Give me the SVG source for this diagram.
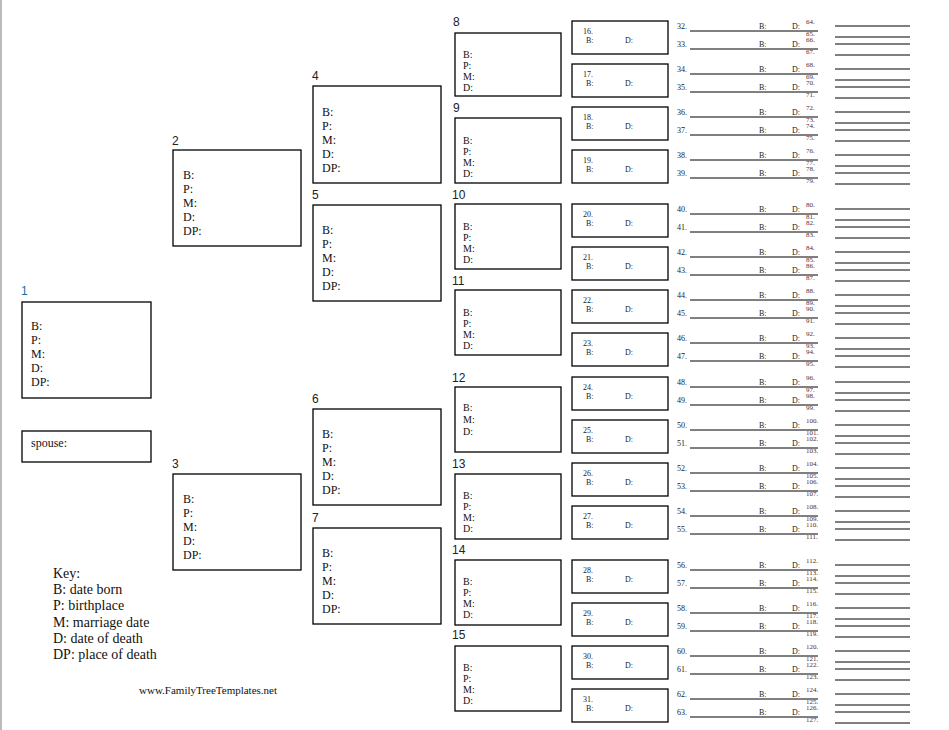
<svg xmlns="http://www.w3.org/2000/svg" width="949" height="730" viewBox="0 0 949 730">
<style>
.b{fill:#fff;stroke:#000;stroke-width:1.3}
.n{font-family:"Liberation Sans",Arial,sans-serif;font-size:12px;fill:#222}
.t,.s,.x,.r,.k{font-family:"Times New Roman","Liberation Serif","DejaVu Serif",serif}
.t{font-size:12px;fill:#111}
.s{font-size:10px;fill:#111}
.x{font-size:8px;fill:#222}
.r{font-size:7px;fill:#5a2a2a}
.k{font-size:14px;fill:#111}
.l{stroke:#000;stroke-width:1}
</style>
<rect width="949" height="730" fill="#fff"/>
<line x1="1" y1="0" x2="1" y2="730" stroke="#bbb" stroke-width="2"/>
<g id="p1"><text class="n" x="21" y="295" style="fill:#1a6fa0">1</text><rect class="b" x="22" y="302" width="129" height="96"/>
<text class="t" x="31" y="330">B:</text><text class="t" x="31" y="344">P:</text><text class="t" x="31" y="358">M:</text><text class="t" x="31" y="372">D:</text><text class="t" x="31" y="386">DP:</text></g>
<g id="spouse"><rect class="b" x="22" y="431" width="129" height="31"/><text class="t" x="31" y="447">spouse:</text></g>
<g id="p2"><text class="n" x="172" y="145">2</text><rect class="b" x="173" y="150" width="128" height="96"/>
<text class="t" x="183" y="179">B:</text><text class="t" x="183" y="193">P:</text><text class="t" x="183" y="207">M:</text><text class="t" x="183" y="221">D:</text><text class="t" x="183" y="235">DP:</text></g>
<g id="p3"><text class="n" x="172" y="468">3</text><rect class="b" x="173" y="474" width="128" height="96"/>
<text class="t" x="183" y="503">B:</text><text class="t" x="183" y="517">P:</text><text class="t" x="183" y="531">M:</text><text class="t" x="183" y="545">D:</text><text class="t" x="183" y="559">DP:</text></g>
<g id="p4"><text class="n" x="312" y="80">4</text><rect class="b" x="313" y="86" width="128" height="97"/>
<text class="t" x="322" y="116">B:</text><text class="t" x="322" y="130">P:</text><text class="t" x="322" y="144">M:</text><text class="t" x="322" y="158">D:</text><text class="t" x="322" y="172">DP:</text></g>
<g id="p5"><text class="n" x="312" y="199">5</text><rect class="b" x="313" y="205" width="128" height="96"/>
<text class="t" x="322" y="234">B:</text><text class="t" x="322" y="248">P:</text><text class="t" x="322" y="262">M:</text><text class="t" x="322" y="276">D:</text><text class="t" x="322" y="290">DP:</text></g>
<g id="p6"><text class="n" x="312" y="403">6</text><rect class="b" x="313" y="409" width="128" height="96"/>
<text class="t" x="322" y="438">B:</text><text class="t" x="322" y="452">P:</text><text class="t" x="322" y="466">M:</text><text class="t" x="322" y="480">D:</text><text class="t" x="322" y="494">DP:</text></g>
<g id="p7"><text class="n" x="312" y="522">7</text><rect class="b" x="313" y="528" width="128" height="96"/>
<text class="t" x="322" y="557">B:</text><text class="t" x="322" y="571">P:</text><text class="t" x="322" y="585">M:</text><text class="t" x="322" y="599">D:</text><text class="t" x="322" y="613">DP:</text></g>
<g id="p8"><text class="n" x="453" y="26">8</text><rect class="b" x="455" y="33" width="106" height="63"/>
<text class="s" x="463" y="58">B:</text><text class="s" x="463" y="69">P:</text><text class="s" x="463" y="80">M:</text><text class="s" x="463" y="91">D:</text></g>
<g id="p9"><text class="n" x="453" y="112">9</text><rect class="b" x="455" y="118" width="106" height="65"/>
<text class="s" x="463" y="144">B:</text><text class="s" x="463" y="155">P:</text><text class="s" x="463" y="166">M:</text><text class="s" x="463" y="177">D:</text></g>
<g id="p10"><text class="n" x="452" y="199">10</text><rect class="b" x="455" y="204" width="106" height="65"/>
<text class="s" x="463" y="230">B:</text><text class="s" x="463" y="241">P:</text><text class="s" x="463" y="252">M:</text><text class="s" x="463" y="263">D:</text></g>
<g id="p11"><text class="n" x="452" y="285">11</text><rect class="b" x="455" y="290" width="106" height="65"/>
<text class="s" x="463" y="316">B:</text><text class="s" x="463" y="327">P:</text><text class="s" x="463" y="338">M:</text><text class="s" x="463" y="349">D:</text></g>
<g id="p12"><text class="n" x="452" y="382">12</text><rect class="b" x="455" y="387" width="106" height="65"/>
<text class="s" x="463" y="411">B:</text><text class="s" x="463" y="423">M:</text><text class="s" x="463" y="435">D:</text></g>
<g id="p13"><text class="n" x="452" y="468">13</text><rect class="b" x="455" y="474" width="106" height="65"/>
<text class="s" x="463" y="499">B:</text><text class="s" x="463" y="510">P:</text><text class="s" x="463" y="521">M:</text><text class="s" x="463" y="532">D:</text></g>
<g id="p14"><text class="n" x="452" y="554">14</text><rect class="b" x="455" y="560" width="106" height="65"/>
<text class="s" x="463" y="585">B:</text><text class="s" x="463" y="596">P:</text><text class="s" x="463" y="607">M:</text><text class="s" x="463" y="618">D:</text></g>
<g id="p15"><text class="n" x="452" y="639">15</text><rect class="b" x="455" y="646" width="106" height="65"/>
<text class="s" x="463" y="671">B:</text><text class="s" x="463" y="682">P:</text><text class="s" x="463" y="693">M:</text><text class="s" x="463" y="704">D:</text></g>
<g id="col5">
<g id="p16"><rect class="b" x="572" y="21" width="96" height="33"/><text class="x" x="583" y="34">16.</text><text class="x" x="586" y="43">B:</text><text class="x" x="625" y="43">D:</text></g>
<g id="p17"><rect class="b" x="572" y="64" width="96" height="33"/><text class="x" x="583" y="77">17.</text><text class="x" x="586" y="86">B:</text><text class="x" x="625" y="86">D:</text></g>
<g id="p18"><rect class="b" x="572" y="107" width="96" height="33"/><text class="x" x="583" y="120">18.</text><text class="x" x="586" y="129">B:</text><text class="x" x="625" y="129">D:</text></g>
<g id="p19"><rect class="b" x="572" y="150" width="96" height="33"/><text class="x" x="583" y="163">19.</text><text class="x" x="586" y="172">B:</text><text class="x" x="625" y="172">D:</text></g>
<g id="p20"><rect class="b" x="572" y="204" width="96" height="33"/><text class="x" x="583" y="217">20.</text><text class="x" x="586" y="226">B:</text><text class="x" x="625" y="226">D:</text></g>
<g id="p21"><rect class="b" x="572" y="247" width="96" height="33"/><text class="x" x="583" y="260">21.</text><text class="x" x="586" y="269">B:</text><text class="x" x="625" y="269">D:</text></g>
<g id="p22"><rect class="b" x="572" y="290" width="96" height="33"/><text class="x" x="583" y="303">22.</text><text class="x" x="586" y="312">B:</text><text class="x" x="625" y="312">D:</text></g>
<g id="p23"><rect class="b" x="572" y="333" width="96" height="33"/><text class="x" x="583" y="346">23.</text><text class="x" x="586" y="355">B:</text><text class="x" x="625" y="355">D:</text></g>
<g id="p24"><rect class="b" x="572" y="377" width="96" height="33"/><text class="x" x="583" y="390">24.</text><text class="x" x="586" y="399">B:</text><text class="x" x="625" y="399">D:</text></g>
<g id="p25"><rect class="b" x="572" y="420" width="96" height="33"/><text class="x" x="583" y="433">25.</text><text class="x" x="586" y="442">B:</text><text class="x" x="625" y="442">D:</text></g>
<g id="p26"><rect class="b" x="572" y="463" width="96" height="33"/><text class="x" x="583" y="476">26.</text><text class="x" x="586" y="485">B:</text><text class="x" x="625" y="485">D:</text></g>
<g id="p27"><rect class="b" x="572" y="506" width="96" height="33"/><text class="x" x="583" y="519">27.</text><text class="x" x="586" y="528">B:</text><text class="x" x="625" y="528">D:</text></g>
<g id="p28"><rect class="b" x="572" y="560" width="96" height="33"/><text class="x" x="583" y="573">28.</text><text class="x" x="586" y="582">B:</text><text class="x" x="625" y="582">D:</text></g>
<g id="p29"><rect class="b" x="572" y="603" width="96" height="33"/><text class="x" x="583" y="616">29.</text><text class="x" x="586" y="625">B:</text><text class="x" x="625" y="625">D:</text></g>
<g id="p30"><rect class="b" x="572" y="646" width="96" height="33"/><text class="x" x="583" y="659">30.</text><text class="x" x="586" y="668">B:</text><text class="x" x="625" y="668">D:</text></g>
<g id="p31"><rect class="b" x="572" y="689" width="96" height="33"/><text class="x" x="583" y="702">31.</text><text class="x" x="586" y="711">B:</text><text class="x" x="625" y="711">D:</text></g>
</g>
<g id="col6">
<text class="x" x="677" y="29">32.</text><text class="x" x="759" y="29">B:</text><text class="x" x="792" y="29">D:</text><line class="l" x1="690" y1="31" x2="818" y2="31"/>
<text class="x" x="677" y="47">33.</text><text class="x" x="759" y="47">B:</text><text class="x" x="792" y="47">D:</text><line class="l" x1="690" y1="49" x2="818" y2="49"/>
<text class="x" x="677" y="72">34.</text><text class="x" x="759" y="72">B:</text><text class="x" x="792" y="72">D:</text><line class="l" x1="690" y1="74" x2="818" y2="74"/>
<text class="x" x="677" y="90">35.</text><text class="x" x="759" y="90">B:</text><text class="x" x="792" y="90">D:</text><line class="l" x1="690" y1="92" x2="818" y2="92"/>
<text class="x" x="677" y="115">36.</text><text class="x" x="759" y="115">B:</text><text class="x" x="792" y="115">D:</text><line class="l" x1="690" y1="117" x2="818" y2="117"/>
<text class="x" x="677" y="133">37.</text><text class="x" x="759" y="133">B:</text><text class="x" x="792" y="133">D:</text><line class="l" x1="690" y1="135" x2="818" y2="135"/>
<text class="x" x="677" y="158">38.</text><text class="x" x="759" y="158">B:</text><text class="x" x="792" y="158">D:</text><line class="l" x1="690" y1="160" x2="818" y2="160"/>
<text class="x" x="677" y="176">39.</text><text class="x" x="759" y="176">B:</text><text class="x" x="792" y="176">D:</text><line class="l" x1="690" y1="178" x2="818" y2="178"/>
<text class="x" x="677" y="212">40.</text><text class="x" x="759" y="212">B:</text><text class="x" x="792" y="212">D:</text><line class="l" x1="690" y1="214" x2="818" y2="214"/>
<text class="x" x="677" y="230">41.</text><text class="x" x="759" y="230">B:</text><text class="x" x="792" y="230">D:</text><line class="l" x1="690" y1="232" x2="818" y2="232"/>
<text class="x" x="677" y="255">42.</text><text class="x" x="759" y="255">B:</text><text class="x" x="792" y="255">D:</text><line class="l" x1="690" y1="257" x2="818" y2="257"/>
<text class="x" x="677" y="273">43.</text><text class="x" x="759" y="273">B:</text><text class="x" x="792" y="273">D:</text><line class="l" x1="690" y1="275" x2="818" y2="275"/>
<text class="x" x="677" y="298">44.</text><text class="x" x="759" y="298">B:</text><text class="x" x="792" y="298">D:</text><line class="l" x1="690" y1="300" x2="818" y2="300"/>
<text class="x" x="677" y="316">45.</text><text class="x" x="759" y="316">B:</text><text class="x" x="792" y="316">D:</text><line class="l" x1="690" y1="318" x2="818" y2="318"/>
<text class="x" x="677" y="341">46.</text><text class="x" x="759" y="341">B:</text><text class="x" x="792" y="341">D:</text><line class="l" x1="690" y1="343" x2="818" y2="343"/>
<text class="x" x="677" y="359">47.</text><text class="x" x="759" y="359">B:</text><text class="x" x="792" y="359">D:</text><line class="l" x1="690" y1="361" x2="818" y2="361"/>
<text class="x" x="677" y="385">48.</text><text class="x" x="759" y="385">B:</text><text class="x" x="792" y="385">D:</text><line class="l" x1="690" y1="387" x2="818" y2="387"/>
<text class="x" x="677" y="403">49.</text><text class="x" x="759" y="403">B:</text><text class="x" x="792" y="403">D:</text><line class="l" x1="690" y1="405" x2="818" y2="405"/>
<text class="x" x="677" y="428">50.</text><text class="x" x="759" y="428">B:</text><text class="x" x="792" y="428">D:</text><line class="l" x1="690" y1="430" x2="818" y2="430"/>
<text class="x" x="677" y="446">51.</text><text class="x" x="759" y="446">B:</text><text class="x" x="792" y="446">D:</text><line class="l" x1="690" y1="448" x2="818" y2="448"/>
<text class="x" x="677" y="471">52.</text><text class="x" x="759" y="471">B:</text><text class="x" x="792" y="471">D:</text><line class="l" x1="690" y1="473" x2="818" y2="473"/>
<text class="x" x="677" y="489">53.</text><text class="x" x="759" y="489">B:</text><text class="x" x="792" y="489">D:</text><line class="l" x1="690" y1="491" x2="818" y2="491"/>
<text class="x" x="677" y="514">54.</text><text class="x" x="759" y="514">B:</text><text class="x" x="792" y="514">D:</text><line class="l" x1="690" y1="516" x2="818" y2="516"/>
<text class="x" x="677" y="532">55.</text><text class="x" x="759" y="532">B:</text><text class="x" x="792" y="532">D:</text><line class="l" x1="690" y1="534" x2="818" y2="534"/>
<text class="x" x="677" y="568">56.</text><text class="x" x="759" y="568">B:</text><text class="x" x="792" y="568">D:</text><line class="l" x1="690" y1="570" x2="818" y2="570"/>
<text class="x" x="677" y="586">57.</text><text class="x" x="759" y="586">B:</text><text class="x" x="792" y="586">D:</text><line class="l" x1="690" y1="588" x2="818" y2="588"/>
<text class="x" x="677" y="611">58.</text><text class="x" x="759" y="611">B:</text><text class="x" x="792" y="611">D:</text><line class="l" x1="690" y1="613" x2="818" y2="613"/>
<text class="x" x="677" y="629">59.</text><text class="x" x="759" y="629">B:</text><text class="x" x="792" y="629">D:</text><line class="l" x1="690" y1="631" x2="818" y2="631"/>
<text class="x" x="677" y="654">60.</text><text class="x" x="759" y="654">B:</text><text class="x" x="792" y="654">D:</text><line class="l" x1="690" y1="656" x2="818" y2="656"/>
<text class="x" x="677" y="672">61.</text><text class="x" x="759" y="672">B:</text><text class="x" x="792" y="672">D:</text><line class="l" x1="690" y1="674" x2="818" y2="674"/>
<text class="x" x="677" y="697">62.</text><text class="x" x="759" y="697">B:</text><text class="x" x="792" y="697">D:</text><line class="l" x1="690" y1="699" x2="818" y2="699"/>
<text class="x" x="677" y="715">63.</text><text class="x" x="759" y="715">B:</text><text class="x" x="792" y="715">D:</text><line class="l" x1="690" y1="717" x2="818" y2="717"/>
</g>
<g id="col7">
<text class="r" x="806" y="24">64.</text><line class="l" x1="835" y1="26" x2="910" y2="26"/><text class="r" x="806" y="36">65.</text><line class="l" x1="835" y1="37" x2="910" y2="37"/>
<text class="r" x="806" y="42">66.</text><line class="l" x1="835" y1="44" x2="910" y2="44"/><text class="r" x="806" y="54">67.</text><line class="l" x1="835" y1="55" x2="910" y2="55"/>
<text class="r" x="806" y="67">68.</text><line class="l" x1="835" y1="69" x2="910" y2="69"/><text class="r" x="806" y="79">69.</text><line class="l" x1="835" y1="80" x2="910" y2="80"/>
<text class="r" x="806" y="85">70.</text><line class="l" x1="835" y1="87" x2="910" y2="87"/><text class="r" x="806" y="97">71.</text><line class="l" x1="835" y1="98" x2="910" y2="98"/>
<text class="r" x="806" y="110">72.</text><line class="l" x1="835" y1="112" x2="910" y2="112"/><text class="r" x="806" y="122">73.</text><line class="l" x1="835" y1="123" x2="910" y2="123"/>
<text class="r" x="806" y="128">74.</text><line class="l" x1="835" y1="130" x2="910" y2="130"/><text class="r" x="806" y="140">75.</text><line class="l" x1="835" y1="141" x2="910" y2="141"/>
<text class="r" x="806" y="153">76.</text><line class="l" x1="835" y1="155" x2="910" y2="155"/><text class="r" x="806" y="165">77.</text><line class="l" x1="835" y1="166" x2="910" y2="166"/>
<text class="r" x="806" y="171">78.</text><line class="l" x1="835" y1="173" x2="910" y2="173"/><text class="r" x="806" y="183">79.</text><line class="l" x1="835" y1="184" x2="910" y2="184"/>
<text class="r" x="806" y="207">80.</text><line class="l" x1="835" y1="209" x2="910" y2="209"/><text class="r" x="806" y="219">81.</text><line class="l" x1="835" y1="220" x2="910" y2="220"/>
<text class="r" x="806" y="225">82.</text><line class="l" x1="835" y1="227" x2="910" y2="227"/><text class="r" x="806" y="237">83.</text><line class="l" x1="835" y1="238" x2="910" y2="238"/>
<text class="r" x="806" y="250">84.</text><line class="l" x1="835" y1="252" x2="910" y2="252"/><text class="r" x="806" y="262">85.</text><line class="l" x1="835" y1="263" x2="910" y2="263"/>
<text class="r" x="806" y="268">86.</text><line class="l" x1="835" y1="270" x2="910" y2="270"/><text class="r" x="806" y="280">87.</text><line class="l" x1="835" y1="281" x2="910" y2="281"/>
<text class="r" x="806" y="293">88.</text><line class="l" x1="835" y1="295" x2="910" y2="295"/><text class="r" x="806" y="305">89.</text><line class="l" x1="835" y1="306" x2="910" y2="306"/>
<text class="r" x="806" y="311">90.</text><line class="l" x1="835" y1="313" x2="910" y2="313"/><text class="r" x="806" y="323">91.</text><line class="l" x1="835" y1="324" x2="910" y2="324"/>
<text class="r" x="806" y="336">92.</text><line class="l" x1="835" y1="338" x2="910" y2="338"/><text class="r" x="806" y="348">93.</text><line class="l" x1="835" y1="349" x2="910" y2="349"/>
<text class="r" x="806" y="354">94.</text><line class="l" x1="835" y1="356" x2="910" y2="356"/><text class="r" x="806" y="366">95.</text><line class="l" x1="835" y1="367" x2="910" y2="367"/>
<text class="r" x="806" y="380">96.</text><line class="l" x1="835" y1="382" x2="910" y2="382"/><text class="r" x="806" y="392">97.</text><line class="l" x1="835" y1="393" x2="910" y2="393"/>
<text class="r" x="806" y="398">98.</text><line class="l" x1="835" y1="400" x2="910" y2="400"/><text class="r" x="806" y="410">99.</text><line class="l" x1="835" y1="411" x2="910" y2="411"/>
<text class="r" x="806" y="423">100.</text><line class="l" x1="835" y1="425" x2="910" y2="425"/><text class="r" x="806" y="435">101.</text><line class="l" x1="835" y1="436" x2="910" y2="436"/>
<text class="r" x="806" y="441">102.</text><line class="l" x1="835" y1="443" x2="910" y2="443"/><text class="r" x="806" y="453">103.</text><line class="l" x1="835" y1="454" x2="910" y2="454"/>
<text class="r" x="806" y="466">104.</text><line class="l" x1="835" y1="468" x2="910" y2="468"/><text class="r" x="806" y="478">105.</text><line class="l" x1="835" y1="479" x2="910" y2="479"/>
<text class="r" x="806" y="484">106.</text><line class="l" x1="835" y1="486" x2="910" y2="486"/><text class="r" x="806" y="496">107.</text><line class="l" x1="835" y1="497" x2="910" y2="497"/>
<text class="r" x="806" y="509">108.</text><line class="l" x1="835" y1="511" x2="910" y2="511"/><text class="r" x="806" y="521">109.</text><line class="l" x1="835" y1="522" x2="910" y2="522"/>
<text class="r" x="806" y="527">110.</text><line class="l" x1="835" y1="529" x2="910" y2="529"/><text class="r" x="806" y="539">111.</text><line class="l" x1="835" y1="540" x2="910" y2="540"/>
<text class="r" x="806" y="563">112.</text><line class="l" x1="835" y1="565" x2="910" y2="565"/><text class="r" x="806" y="575">113.</text><line class="l" x1="835" y1="576" x2="910" y2="576"/>
<text class="r" x="806" y="581">114.</text><line class="l" x1="835" y1="583" x2="910" y2="583"/><text class="r" x="806" y="593">115.</text><line class="l" x1="835" y1="594" x2="910" y2="594"/>
<text class="r" x="806" y="606">116.</text><line class="l" x1="835" y1="608" x2="910" y2="608"/><text class="r" x="806" y="618">117.</text><line class="l" x1="835" y1="619" x2="910" y2="619"/>
<text class="r" x="806" y="624">118.</text><line class="l" x1="835" y1="626" x2="910" y2="626"/><text class="r" x="806" y="636">119.</text><line class="l" x1="835" y1="637" x2="910" y2="637"/>
<text class="r" x="806" y="649">120.</text><line class="l" x1="835" y1="651" x2="910" y2="651"/><text class="r" x="806" y="661">121.</text><line class="l" x1="835" y1="662" x2="910" y2="662"/>
<text class="r" x="806" y="667">122.</text><line class="l" x1="835" y1="669" x2="910" y2="669"/><text class="r" x="806" y="679">123.</text><line class="l" x1="835" y1="680" x2="910" y2="680"/>
<text class="r" x="806" y="692">124.</text><line class="l" x1="835" y1="694" x2="910" y2="694"/><text class="r" x="806" y="704">125.</text><line class="l" x1="835" y1="705" x2="910" y2="705"/>
<text class="r" x="806" y="710">126.</text><line class="l" x1="835" y1="712" x2="910" y2="712"/><text class="r" x="806" y="722">127.</text><line class="l" x1="835" y1="723" x2="910" y2="723"/>
</g>
<g id="key">
<text class="k" x="53" y="578">Key:</text>
<text class="k" x="53" y="594">B: date born</text>
<text class="k" x="53" y="610">P: birthplace</text>
<text class="k" x="53" y="627">M: marriage date</text>
<text class="k" x="53" y="643">D: date of death</text>
<text class="k" x="53" y="659">DP: place of death</text>
<text class="t" x="139" y="694" style="font-size:11px">www.FamilyTreeTemplates.net</text>
</g>
</svg>
